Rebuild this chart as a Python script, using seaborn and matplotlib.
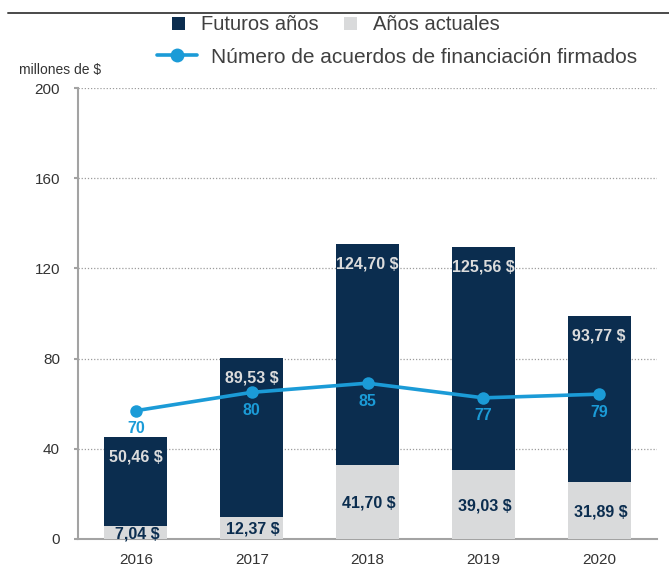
import matplotlib
matplotlib.use("Agg")
import matplotlib.pyplot as plt
import seaborn as sns
import pandas as pd
from matplotlib.patches import Patch
from matplotlib.lines import Line2D

# Financing data (millions of $) and number of signed agreements
years = ["2016", "2017", "2018", "2019", "2020"]
futuros = [50.46, 89.53, 124.70, 125.56, 93.77]
actuales = [7.04, 12.37, 41.70, 39.03, 31.89]
acuerdos = [70, 80, 85, 77, 79]

y_ticks = [0, 40, 80, 120, 160, 200]

DARK = "#0b2d4f"
LIGHT = "#d9dadb"
BLUE = "#1b9bd7"
TEXT = "#333333"
AXIS = "#a3a3a3"

sns.set_theme(style="white")
plt.rcParams["font.family"] = ["Liberation Sans", "DejaVu Sans"]

df = pd.DataFrame({
    "year": years,
    "futuros": futuros,
    "actuales": actuales,
    "acuerdos": acuerdos,
})
df["total"] = df["futuros"] + df["actuales"]


def fmt(v):
    return f"{v:.2f}".replace(".", ",") + " $"


W, H = 669, 567
fig = plt.figure(figsize=(W / 100, H / 100), dpi=100)
ax = fig.add_axes([78 / W, 1 - 539 / H, (657 - 78) / W, (539 - 88) / H])

# Stacked bars and the agreements line live on their own hidden scales
ax_bar = ax.twinx()
ax_line = ax.twinx()

sns.barplot(data=df, x="year", y="total", color=DARK, saturation=1,
            width=0.545, ax=ax_bar, linewidth=0)
sns.barplot(data=df, x="year", y="actuales", color=LIGHT, saturation=1,
            width=0.545, ax=ax_bar, linewidth=0)
ax_bar.set_ylim(0, 254)

pos = list(range(len(years)))
sns.lineplot(x=pos, y=df["acuerdos"], ax=ax_line, color=BLUE, linewidth=2.6,
             marker="o", markersize=9, markeredgewidth=0)
ax_line.set_ylim(0, 246)

for a in (ax_bar, ax_line):
    a.set_yticks([])
    a.set_ylabel("")
    a.set_xlabel("")
    for s in a.spines.values():
        s.set_visible(False)

# Value labels
for i, row in df.iterrows():
    ax_bar.annotate(fmt(row["futuros"]), (i, row["total"]), xytext=(0, -14.5),
                    textcoords="offset points", ha="center", va="center",
                    color="#dcdcdc", fontsize=11.5, fontweight="bold")
    ax_bar.annotate(fmt(row["actuales"]), (i, row["actuales"] / 2), xytext=(1, -1),
                    textcoords="offset points", ha="center", va="center",
                    color=DARK, fontsize=11.5, fontweight="bold")
    ax_line.annotate(str(row["acuerdos"]), (i, row["acuerdos"]), xytext=(0, -13),
                     textcoords="offset points", ha="center", va="center",
                     color=BLUE, fontsize=11.5, fontweight="bold")

# Main (visible) axis
ax.set_xlim(-0.5, len(years) - 0.5)
ax.set_ylim(0, 200)
ax.set_yticks(y_ticks)
ax.set_xticks(pos)
ax.set_xticklabels(years)
ax.set_xticks([p - 0.5 for p in pos] + [len(years) - 0.5], minor=True)
ax.tick_params(axis="x", which="major", length=0, pad=10, labelsize=11, labelcolor=TEXT)
ax.tick_params(axis="x", which="minor", length=4, width=1.5, color=AXIS, direction="out")
ax.tick_params(axis="y", length=3, width=1.5, color=AXIS, pad=10, labelsize=11,
               labelcolor=TEXT, left=True)
ax.yaxis.grid(True, linestyle=(0, (1, 1.5)), color="#9c9c9c", linewidth=0.9)
ax.xaxis.grid(False)
for side in ("top", "right"):
    ax.spines[side].set_visible(False)
for side in ("left", "bottom"):
    ax.spines[side].set_color(AXIS)
    ax.spines[side].set_linewidth(1.5)
ax.set_xlabel("")
ax.set_ylabel("")

fig.text(19 / W, 1 - 70 / H, "millones de $", ha="left", va="center",
         fontsize=10, color=TEXT)

# Header rule
fig.add_artist(Line2D([8 / W, 1.0], [1 - 13 / H, 1 - 13 / H],
                      transform=fig.transFigure, color="#4a4a4a", linewidth=1.4))

# Legends
bar_handles = [Patch(facecolor=DARK, edgecolor="none", label="Futuros años"),
               Patch(facecolor=LIGHT, edgecolor="none", label="Años actuales")]
fig.legend(handles=bar_handles, loc="center", bbox_to_anchor=(0.502, 0.956),
           ncol=2, frameon=False, fontsize=14.5, labelcolor="#404040",
           handlelength=0.65, handleheight=0.65, handletextpad=0.75,
           columnspacing=1.3)
line_handle = [Line2D([], [], color=BLUE, linewidth=2.6, marker="o", markersize=10,
                      markeredgewidth=0,
                      label="Número de acuerdos de financiación firmados")]
fig.legend(handles=line_handle, loc="center", bbox_to_anchor=(0.594, 0.899),
           frameon=False, fontsize=15, labelcolor="#404040",
           handlelength=1.9, handletextpad=0.7)

fig.savefig("out.png", dpi=100)
